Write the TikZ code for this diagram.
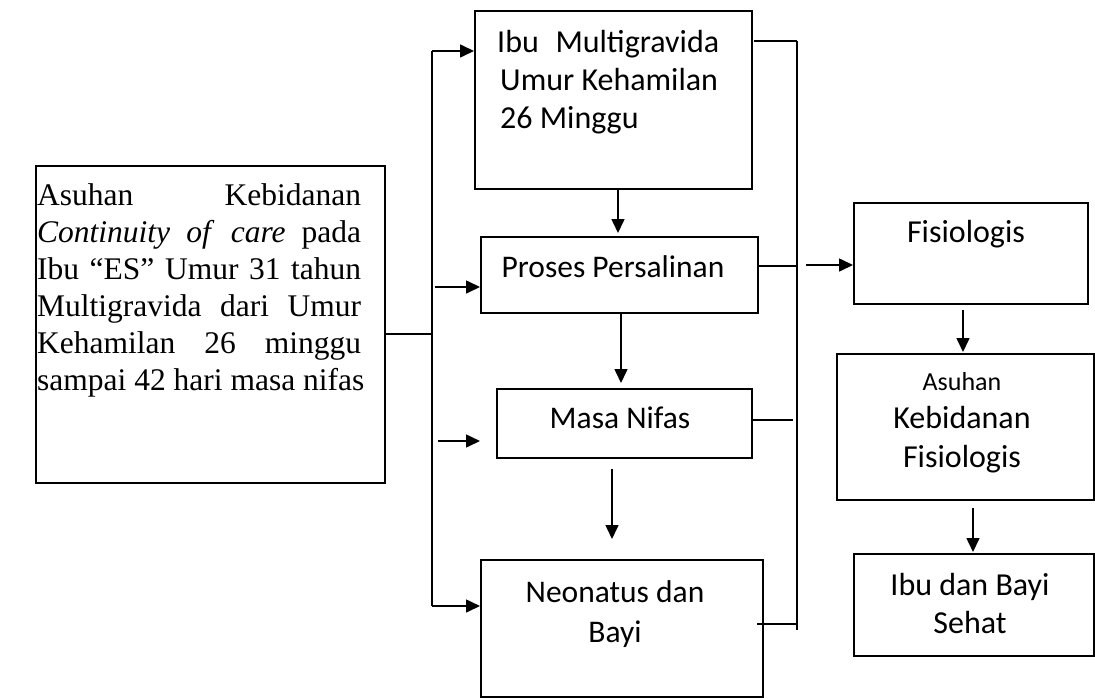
\documentclass[tikz,border=0pt]{standalone}
\usepackage{fontspec}
\setmainfont{Liberation Serif}
\newfontfamily\calfont{Carlito}
\usetikzlibrary{arrows.meta}
\tikzset{
  box/.style={draw, line width=1.6pt, inner sep=0pt, anchor=north west},
  conn/.style={line width=1.6pt},
  arr/.style={conn, -{Triangle[length=14pt,width=13pt]}},
  txt/.style={inner sep=0pt, anchor=base},
}
\newcommand\stk[2]{\vtop{\baselineskip=#1\lineskiplimit=-100pt\halign{\hfil##\hfil\cr#2\crcr}}}
\begin{document}
\begin{tikzpicture}[x=1pt,y=-1pt]
\useasboundingbox (0,0) rectangle (1095,699);
% boxes
\node[box, minimum width=349pt, minimum height=317pt] (L) at (35,165) {};
\node[box, minimum width=277pt, minimum height=178pt] (b1) at (474,10) {};
\node[box, minimum width=277pt, minimum height=76pt] (b2) at (480,236) {};
\node[box, minimum width=255pt, minimum height=69pt] (b3) at (496,388) {};
\node[box, minimum width=282pt, minimum height=137pt] (b4) at (480,559) {};
\node[box, minimum width=234pt, minimum height=101pt] (F) at (853,202) {};
\node[box, minimum width=257pt, minimum height=146pt] (A) at (836,353) {};
\node[box, minimum width=240pt, minimum height=102pt] (I) at (853,553) {};
% texts
\node[inner sep=0pt, anchor=base west] (Ltxt) at (37,205) {\fontsize{31.5}{37}\selectfont\vtop{\hsize=324pt\baselineskip=37pt
 \hbox to\hsize{Asuhan\hfill Kebidanan}
 \hbox to\hsize{\textit{Continuity}\hfill\textit{of}\hfill\textit{care}\hfill pada}
 \hbox to\hsize{Ibu\hfill “ES”\hfill Umur\hfill 31\hfill tahun}
 \hbox to\hsize{Multigravida\hfill dari\hfill Umur}
 \hbox to\hsize{Kehamilan\hfill 26\hfill minggu}
 \hbox{sampai 42 hari masa nifas}}};
\node[inner sep=0pt, anchor=base west] (t1) at (497,52) {\calfont\fontsize{32}{38}\selectfont\vtop{\baselineskip=38pt
 \hbox to 222pt{Ibu\hfill Multigravida}
 \hbox{\kern3pt Umur Kehamilan}
 \hbox{\kern3pt 26 Minggu}}};
\node[txt] (t2) at (613,277) {\calfont\fontsize{31.5}{38}\selectfont Proses Persalinan};
\node[txt] (t3) at (620,428) {\calfont\fontsize{31.5}{38}\selectfont Masa Nifas};
\node[txt] (t4) at (615,602) {\calfont\fontsize{31.5}{40}\selectfont\stk{40pt}{Neonatus dan\cr Bayi}};
\node[txt] (tF) at (966,242) {\calfont\fontsize{32}{38}\selectfont Fisiologis};
\node[txt] (tA) at (962,390) {\calfont\fontsize{32}{38}\selectfont\stk{38.5pt}{{\fontsize{26}{30}\selectfont Asuhan}\cr Kebidanan\cr Fisiologis}};
\node[txt] (tI) at (970,595) {\calfont\fontsize{32}{38}\selectfont\stk{38pt}{Ibu dan Bayi\cr Sehat}};
% left bus
\coordinate (busT) at (432,51);
\coordinate (busM) at (432,334);
\coordinate (busB) at (432,606);
\coordinate (a2s) at (435,287);
\coordinate (a3s) at (438,441);
\coordinate (a3e) at (480,441);
\draw[conn] (L.east |- busM) -- (busM);
\draw[conn] (busT) -- (busB);
\draw[arr] (busT) -- (b1.west |- busT);
\draw[arr] (a2s) -- (b2.west |- a2s);
\draw[arr] (a3s) -- (a3e);
\draw[arr] (busB) -- (b4.west |- busB);
% vertical arrows
\coordinate (v1a) at (618,188); \coordinate (v1b) at (618,233);
\coordinate (v2a) at (621,312); \coordinate (v2b) at (621,383);
\coordinate (v3a) at (612,469); \coordinate (v3b) at (612,539);
\coordinate (v4a) at (963,310); \coordinate (v4b) at (963,352);
\coordinate (v5a) at (973,508); \coordinate (v5b) at (973,552);
\draw[arr] (v1a) -- (v1b);
\draw[arr] (v2a) -- (v2b);
\draw[arr] (v3a) -- (v3b);
\draw[arr] (v4a) -- (v4b);
\draw[arr] (v5a) -- (v5b);
% right bus
\coordinate (rT) at (797,41);
\coordinate (rB) at (797,630);
\coordinate (r1s) at (754,41);
\coordinate (r2) at (797,266);
\coordinate (r3e) at (793,420);
\coordinate (r4s) at (757,624);
\coordinate (r4e) at (797,624);
\coordinate (fa) at (806,265);
\draw[conn] (rT) -- (rB);
\draw[conn] (r1s) -- (rT);
\draw[conn] (b2.east |- r2) -- (r2);
\draw[conn] (b3.east |- r3e) -- (r3e);
\draw[conn] (r4s) -- (r4e);
\draw[arr] (fa) -- (F.west |- fa);
\end{tikzpicture}
\end{document}
